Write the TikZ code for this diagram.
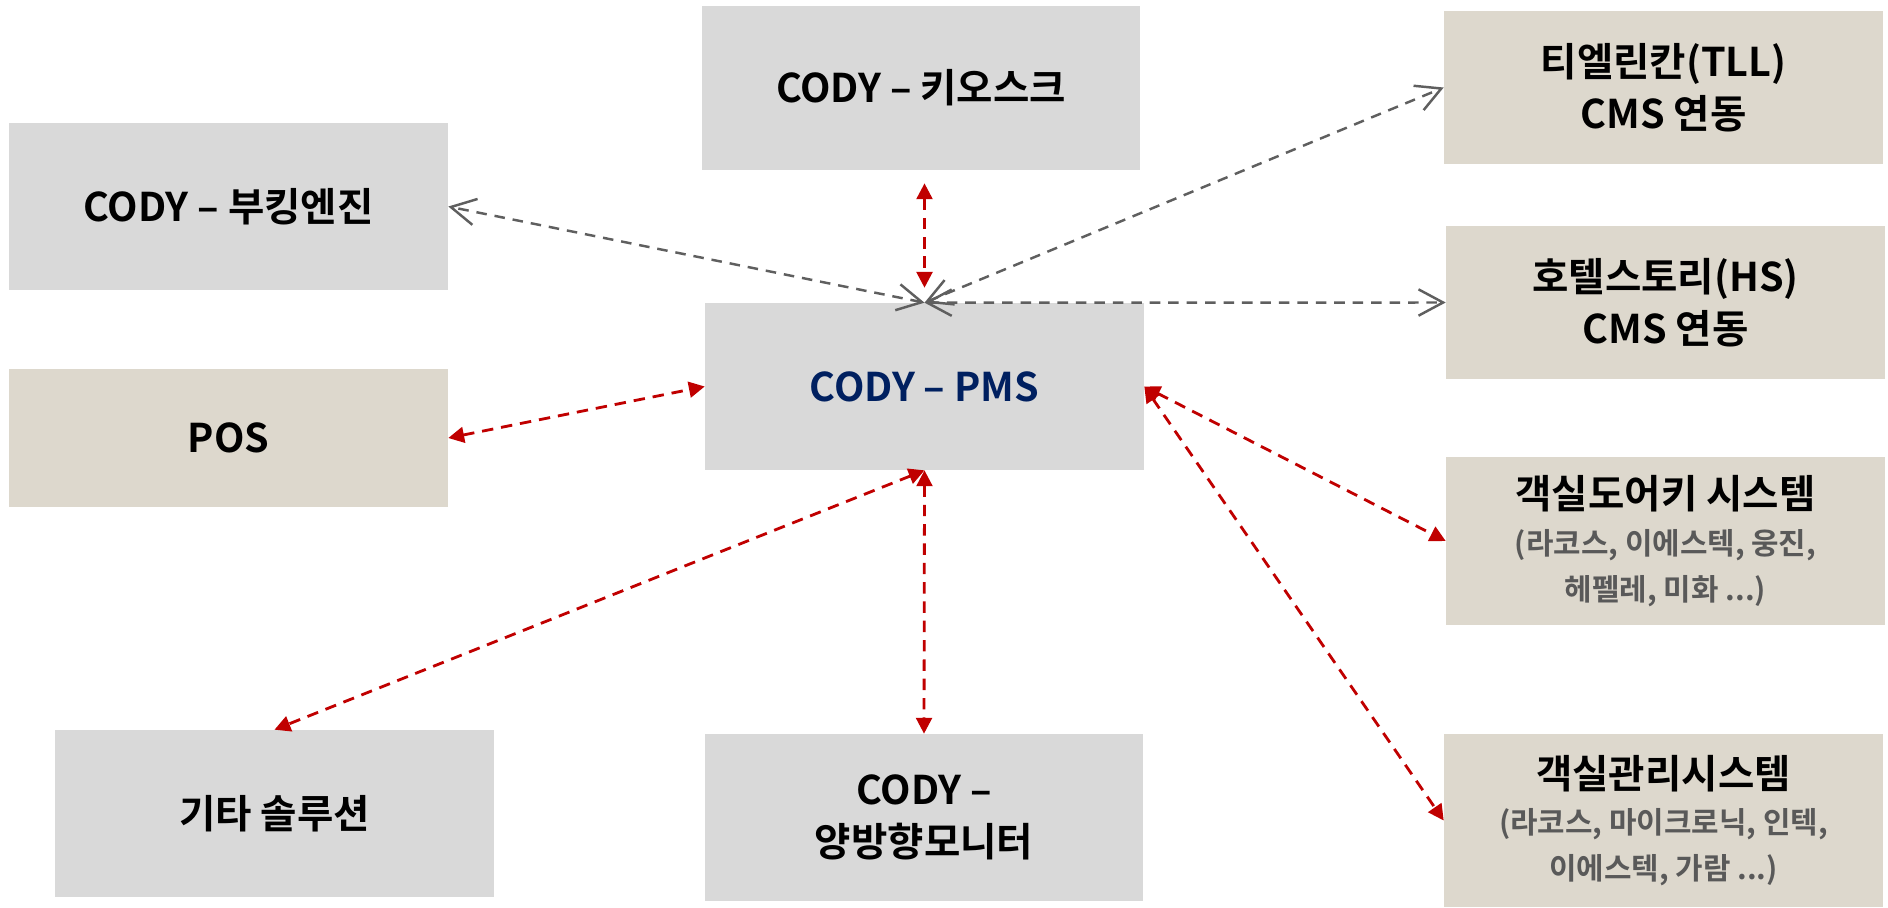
\documentclass[tikz,border=0pt]{standalone}
\usepackage{fontspec}
\setmainfont{Noto Sans CJK KR}[BoldFont={Noto Sans CJK KR Bold}]
\usetikzlibrary{arrows.meta}
\definecolor{boxgray}{HTML}{D9D9D9}
\definecolor{boxbeige}{HTML}{DDD8CD}
\definecolor{pmsblue}{HTML}{002060}
\definecolor{arrgray}{HTML}{5F5F5F}
\definecolor{arrred}{HTML}{C00000}
\definecolor{subgray}{HTML}{595959}
\newcommand{\subline}[1]{{\color{subgray}\fontsize{17}{26}\selectfont #1}}

\begin{document}
\begin{tikzpicture}[x=0.02cm, y=-0.02cm,
        sysbox/.style={fill=boxgray, minimum width=8.78cm, inner sep=0pt, align=center, font=\bfseries\fontsize{22.5}{29.5}\selectfont},
        extbox/.style={sysbox, fill=boxbeige},
        listbox/.style={extbox, font=\bfseries\fontsize{22.5}{26}\selectfont},
        redarr/.style={draw=arrred, line width=1.6pt, dash pattern=on 6.5pt off 4.5pt, {Triangle[length=9pt,width=9pt]}-{Triangle[length=9pt,width=9pt]}},
        grayarr/.style={draw=arrgray, line width=1.4pt, dash pattern=on 6pt off 4.5pt, {Straight Barb[length=14pt,width=15pt]}-{Straight Barb[length=14pt,width=15pt]}}]
        \useasboundingbox (0,0) rectangle (1888,907);
        \node[sysbox, minimum height=3.28cm] (kiosk) at (921,88) {CODY – 키오스크};
        \node[sysbox, minimum height=3.34cm] (booking) at (228.5,206.5) {CODY – 부킹엔진};
        \node[extbox, minimum height=2.76cm] (pos) at (228.5,438) {POS};
        \node[sysbox, minimum height=3.34cm, text=pmsblue] (pms) at (924.5,386.5) {CODY – PMS};
        \node[extbox, minimum height=3.06cm] (tll) at (1663.5,87.5) {티엘린칸(TLL)\\CMS 연동};
        \node[extbox, minimum height=3.06cm] (hs) at (1665.5,302.5) {호텔스토리(HS)\\CMS 연동};
        \node[listbox, minimum height=3.36cm] (doorkey) at (1665.5,541) {객실도어키 시스템\\\subline{(라코스, 이에스텍, 웅진,}\\\subline{헤펠레, 미화 ...)}};
        \node[listbox, minimum height=3.46cm] (roommgmt) at (1663.5,820.5) {객실관리시스템\\\subline{(라코스, 마이크로닉, 인텍,}\\\subline{이에스텍, 가람 ...)}};
        \node[sysbox, minimum height=3.34cm] (other) at (274.5,813.5) {기타 솔루션};
        \node[sysbox, minimum height=3.34cm] (monitor) at (924,817.5) {CODY –\\양방향모니터};
        \draw[grayarr] (pms.north) -- (booking.east);
        \draw[grayarr] (pms.north) -- (tll.west);
        \draw[grayarr] (pms.north) -- (hs.west);
        \draw[redarr, shorten <=7.4pt, shorten >=8.5pt] (pms.north |- kiosk.south) -- (pms.north);
        \draw[redarr] (pos.east) -- (pms.west);
        \draw[redarr] (pms.east) -- (doorkey.west);
        \draw[redarr] (pms.east) -- (roommgmt.west);
        \draw[redarr] (pms.south) -- (other.north);
        \draw[redarr] (pms.south) -- (monitor.north);
    \end{tikzpicture}
\end{document}
